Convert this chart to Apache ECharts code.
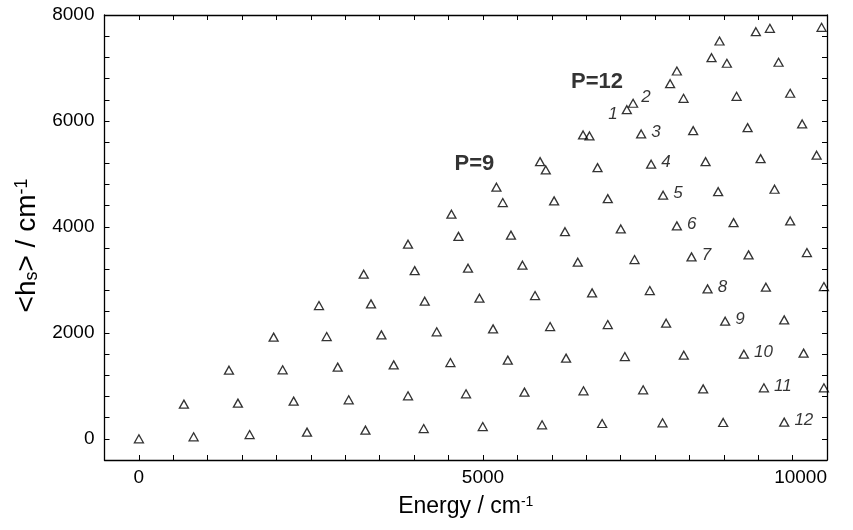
<!DOCTYPE html>
<html><head><meta charset="utf-8">
<script src="https://cdn.jsdelivr.net/npm/echarts@6/dist/echarts.min.js"></script>
<style>html,body{margin:0;padding:0;background:#fff}#c{width:853px;height:530px}</style>
</head><body><div id="c"></div>
<script>
// Polyads: each array lists [Energy (cm-1), <hs> (cm-1)] from bottom to top
const p1 = [[0, 0]];
const p2 = [[795, 38], [654, 655]];
const p3 = [[1609, 81], [1439, 674], [1309, 1296]];
const p4 = [[2443, 126], [2249, 711], [2089, 1302], [1958, 1919]];
const p5 = [[3292, 164], [3049, 736], [2889, 1353], [2729, 1930], [2617, 2515]];
const p6 = [[4139, 194], [3911, 811], [3703, 1396], [3524, 1962], [3373, 2547], [3267, 3108]];
const p7 = [[4997, 232], [4754, 849], [4527, 1440], [4328, 2019], [4154, 2598], [4008, 3175], [3911, 3674]];
const p8 = [[5859, 264], [5603, 881], [5361, 1485], [5147, 2075], [4949, 2655], [4783, 3221], [4644, 3821], [4542, 4240]];
const p9 = [[6732, 289], [6461, 906], [6208, 1523], [5976, 2119], [5757, 2704], [5574, 3277], [5407, 3845], [5288, 4459], [5196, 4749]];
const p10 = [[7610, 302], [7328, 925], [7062, 1553], [6814, 2157], [6586, 2755], [6378, 3334], [6192, 3909], [6034, 4491], [5913, 5075], [5830, 5232]];
const p11 = [[8491, 308], [8200, 943], [7919, 1579], [7662, 2183], [7425, 2798], [7203, 3383], [7003, 3962], [6814, 4534], [6665, 5119], [6548, 5717], [6455, 5736]];
const p12 = [[9378, 315], [9083, 962], [8792, 1598], [8520, 2221], [8264, 2830], [8031, 3434], [7818, 4019], [7618, 4598], [7444, 5183], [7299, 5755], [7182, 6334], [7091, 6213]];
const p13 = [[9955, 962], [9660, 1617], [9378, 2245], [9112, 2862], [8860, 3472], [8642, 4081], [8418, 4666], [8235, 5232], [8055, 5817], [7915, 6428], [7818, 6943], [7720, 6704]];
const p14 = [[9955, 2874], [9708, 3515], [9465, 4113], [9238, 4711], [9035, 5289], [8846, 5874], [8686, 6466], [8545, 7089], [8438, 7509], [8322, 7194]];
const p15 = [[9849, 5353], [9639, 5943], [9465, 6523], [9296, 7108], [9170, 7749], [8966, 7685]];
const p16 = [[9921, 7768]];
const polyads = [p1, p2, p3, p4, p5, p6, p7, p8, p9, p10, p11, p12, p13, p14, p15, p16];
const p12Labels = ['12', '11', '10', '9', '8', '7', '6', '5', '4', '3', '2', '1'];
const xLabelValues = [0, 5000, 10000];
const yLabelValues = [0, 2000, 4000, 6000, 8000];
const xTitle = 'Energy / cm{sup|-1}';
const yTitle = '<h{sub|s}> / cm{sup|-1}';

const FONT = '"Liberation Sans", Arial, Helvetica, sans-serif';
const chart = echarts.init(document.getElementById('c'), null, {renderer: 'canvas'});

function numLabel(txt) {
  const base = {show: true, formatter: txt, fontFamily: FONT, fontStyle: 'italic', fontSize: 17, color: '#000'};
  if (txt === '1') return Object.assign(base, {position: 'left', distance: 4, offset: [0, 5]});
  if (txt === '2') return Object.assign(base, {position: 'right', distance: 3, offset: [0, -6]});
  return Object.assign(base, {position: 'right', distance: 5, offset: [0, -2]});
}

const markStyle = {color: 'rgba(0,0,0,0)', borderColor: '#000', borderWidth: 1.3};
const series = polyads.map((d, k) => ({
  type: 'scatter',
  name: 'P=' + (k + 1),
  symbol: 'triangle',
  symbolSize: [9, 8],
  itemStyle: markStyle,
  silent: true,
  clip: false,
  data: (d === p12) ? d.map((v, i) => ({value: v, label: numLabel(p12Labels[i])})) : d
}));
series.push({
  type: 'scatter',
  name: 'annotations',
  symbolSize: 0,
  silent: true,
  label: {show: true, position: 'inside', fontFamily: FONT, fontWeight: 'bold', fontSize: 22, color: '#000'},
  data: [
    {value: p9[p9.length - 1], label: {formatter: 'P=9', offset: [-22, -23]}},
    {value: p12[10], label: {formatter: 'P=12', offset: [-36, -21]}}
  ]
});

const axisLineStyle = {color: '#000', width: 1.3};
const tickStyle = {show: true, inside: true, length: 5, lineStyle: {color: '#000', width: 1}};

chart.setOption({
  animation: false,
  backgroundColor: '#fff',
  grid: {left: 104.5, right: 26, top: 15, bottom: 70, containLabel: false},
  xAxis: [{
    type: 'value', min: -500, max: 10000, interval: 500, position: 'bottom',
    axisLine: {show: true, onZero: false, lineStyle: axisLineStyle},
    axisTick: tickStyle, splitLine: {show: false},
    axisLabel: {
      fontFamily: FONT, fontSize: 19, color: '#000', margin: 8, alignMaxLabel: 'right',
      formatter: v => xLabelValues.includes(v) ? String(v) : ''
    },
    name: xTitle, nameLocation: 'middle', nameGap: 35,
    nameTextStyle: {fontFamily: FONT, fontSize: 23, color: '#000',
      rich: {sup: {fontFamily: FONT, fontSize: 14, color: '#000', verticalAlign: 'top'}}}
  }, {
    type: 'value', min: -500, max: 10000, interval: 500, position: 'top',
    axisLine: {show: true, onZero: false, lineStyle: axisLineStyle},
    axisTick: tickStyle, splitLine: {show: false}, axisLabel: {show: false}
  }],
  yAxis: [{
    type: 'value', min: -400, max: 8000, interval: 400, position: 'left',
    axisLine: {show: true, onZero: false, lineStyle: axisLineStyle},
    axisTick: tickStyle, splitLine: {show: false},
    axisLabel: {
      fontFamily: FONT, fontSize: 19, color: '#000', margin: 10,
      formatter: v => yLabelValues.includes(v) ? String(v) : ''
    },
    name: yTitle, nameLocation: 'middle', nameGap: 57, nameRotate: 90,
    nameTextStyle: {fontFamily: FONT, fontSize: 28, color: '#000', padding: [0, 16, 0, 0],
      rich: {
        sub: {fontFamily: FONT, fontSize: 18, color: '#000', verticalAlign: 'bottom'},
        sup: {fontFamily: FONT, fontSize: 18, color: '#000', verticalAlign: 'top'}
      }}
  }, {
    type: 'value', min: -400, max: 8000, interval: 400, position: 'right',
    axisLine: {show: true, onZero: false, lineStyle: axisLineStyle},
    axisTick: tickStyle, splitLine: {show: false}, axisLabel: {show: false}
  }],
  series: series
});
</script></body></html>
